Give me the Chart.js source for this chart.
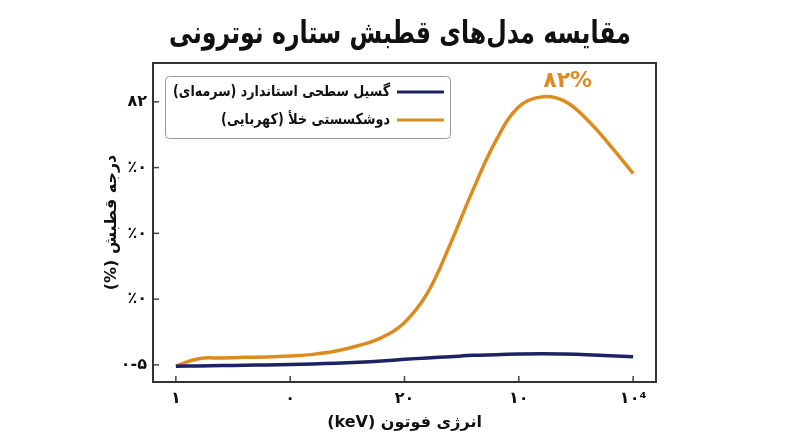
<!DOCTYPE html>
<html>
<head>
<meta charset="utf-8">
<script src="https://cdn.jsdelivr.net/npm/chart.js@4.4.0/dist/chart.umd.min.js"></script>
<style>
html,body{margin:0;padding:0;background:#fff;}
#wrap{width:800px;height:447px;position:relative;}
canvas{direction:rtl;}
</style>
</head>
<body>
<div id="wrap"><canvas id="c" width="800" height="447"></canvas></div>
<script>
const chartTitle = 'مقایسه مدل‌های قطبش ستاره نوترونی';
const energies = [0,0.2,0.4,0.6,0.8,1.0,1.2,1.4,1.6,1.8,2.0,2.2,2.4,2.6,2.8,3.0,3.2,3.4,3.6,3.8,4.0];
const standardEmission = [-0.4,-0.3,-0.2,-0.1,0,0.15,0.3,0.5,0.8,1.2,1.7,2.1,2.5,2.9,3.1,3.3,3.4,3.3,3.1,2.8,2.5];
const vacuumBirefringence = [-0.3,1.9,2.1,2.3,2.4,2.7,3.2,4.2,5.9,8.3,12.9,21.8,36.7,53.3,68.2,78.5,81.5,80.2,74.5,66.7,58.2];
const xTickValues = [0,1,2,3,4];
const xTickLabels = ['۱','۰','۲۰','۱۰','۱۰⁴'];
const yTickValues = [0,20,40,60,80];
const yTickLabels = ['۰-۵','٪۰','٪۰','٪۰','۸۲'];
const seriesLabels = ['گسیل سطحی استاندارد (سرمه‌ای)','دوشکسستی خلأ (کهربایی)'];
const seriesColors = ['#1c2262','#dc8c1e'];
const peakLabel = '۸۲%';
const peakIndex = 16;

const FONT = "'DejaVu Sans', sans-serif";

const framePlugin = {
  id: 'frame',
  afterDraw(chart) {
    const ctx = chart.ctx, a = chart.chartArea;
    const xs = chart.scales.x, ys = chart.scales.y;
    ctx.save();
    ctx.direction = 'rtl';
    // title
    ctx.fillStyle = '#111';
    ctx.font = "bold 31px " + FONT;
    ctx.textAlign = 'center';
    ctx.textBaseline = 'middle';
    ctx.fillText(chartTitle, 400, 35, 462);
    // inner ticks
    ctx.strokeStyle = '#444';
    ctx.lineWidth = 1.5;
    xTickValues.forEach(v => {
      const px = xs.getPixelForValue(v);
      ctx.beginPath(); ctx.moveTo(px, a.bottom); ctx.lineTo(px, a.bottom - 6); ctx.stroke();
    });
    yTickValues.forEach(v => {
      const py = ys.getPixelForValue(v);
      ctx.beginPath(); ctx.moveTo(a.left, py); ctx.lineTo(a.left + 6, py); ctx.stroke();
    });
    // frame
    ctx.strokeStyle = '#333';
    ctx.lineWidth = 2;
    ctx.strokeRect(a.left, a.top, a.right - a.left, a.bottom - a.top);
    // legend
    const lx = a.left + 12, ly = a.top + 13, lw = 285, lh = 62;
    ctx.fillStyle = '#fff';
    ctx.strokeStyle = '#9a9a9a';
    ctx.lineWidth = 1;
    ctx.beginPath();
    ctx.roundRect(lx + 0.5, ly + 0.5, lw, lh, 4);
    ctx.fill(); ctx.stroke();
    ctx.font = "bold 15px " + FONT;
    ctx.textBaseline = 'middle';
    ctx.textAlign = 'right';
    chart.data.datasets.forEach((ds, i) => {
      const rowY = ly + 16 + i * 28;
      ctx.strokeStyle = ds.borderColor;
      ctx.lineWidth = 3;
      ctx.beginPath(); ctx.moveTo(lx + 232, rowY); ctx.lineTo(lx + 279, rowY); ctx.stroke();
      ctx.fillStyle = '#111';
      const w = ctx.measureText(ds.label).width;
      ctx.fillText(ds.label, lx + 225, rowY, Math.min(w, i === 0 ? 217 : w * 0.85));
    });
    // peak label
    const px = xs.getPixelForValue(energies[peakIndex]);
    const py = ys.getPixelForValue(vacuumBirefringence[peakIndex]);
    ctx.fillStyle = seriesColors[1];
    ctx.font = "bold 22px " + FONT;
    ctx.textAlign = 'center';
    ctx.fillText(peakLabel, px + 26, py - 16);
    ctx.restore();
  }
};

new Chart(document.getElementById('c'), {
  type: 'line',
  data: {
    datasets: [
      { label: seriesLabels[0], data: energies.map((x,i)=>({x, y: standardEmission[i]})),
        borderColor: seriesColors[0], borderWidth: 3.5, pointRadius: 0, tension: 0.4, fill: false },
      { label: seriesLabels[1], data: energies.map((x,i)=>({x, y: vacuumBirefringence[i]})),
        borderColor: seriesColors[1], borderWidth: 3.5, pointRadius: 0, tension: 0.4, fill: false }
    ]
  },
  options: {
    responsive: false,
    animation: false,
    layout: { padding: { left: 0, right: 144, top: 63, bottom: 0 } },
    plugins: {
      legend: { display: false },
      tooltip: { enabled: false },
      title: { display: false }
    },
    scales: {
      x: {
        type: 'linear', min: -0.2, max: 4.2,
        afterBuildTicks: s => { s.ticks = xTickValues.map(v => ({ value: v })); },
        afterFit: s => { s.height = 65; },
        grid: { display: false, drawTicks: false },
        border: { display: false },
        ticks: { padding: 7, color: '#111', font: { family: FONT, size: 16, weight: 'bold' },
                 callback: (v) => { const i = xTickValues.indexOf(v); return i >= 0 ? xTickLabels[i] : ''; } },
        title: { display: true, text: 'انرژی فوتون (keV)', color: '#111',
                 font: { family: FONT, size: 16, weight: 'bold', lineHeight: 1.2 }, padding: { top: 0, bottom: 15 } }
      },
      y: {
        type: 'linear', min: -5.2, max: 91.8,
        afterBuildTicks: s => { s.ticks = yTickValues.map(v => ({ value: v })); },
        afterFit: s => { s.width = 153; },
        grid: { display: false, drawTicks: false },
        border: { display: false },
        ticks: { padding: 6, color: '#111', font: { family: FONT, size: 16, weight: 'bold' },
                 callback: (v) => { const i = yTickValues.indexOf(v); return i >= 0 ? yTickLabels[i] : ''; } },
        title: { display: true, text: 'درجه قطبش (%)', color: '#111',
                 font: { family: FONT, size: 16, weight: 'bold', lineHeight: 1.2 }, padding: { top: 102, bottom: 0 } }
      }
    }
  },
  plugins: [framePlugin]
});
</script>
</body>
</html>
